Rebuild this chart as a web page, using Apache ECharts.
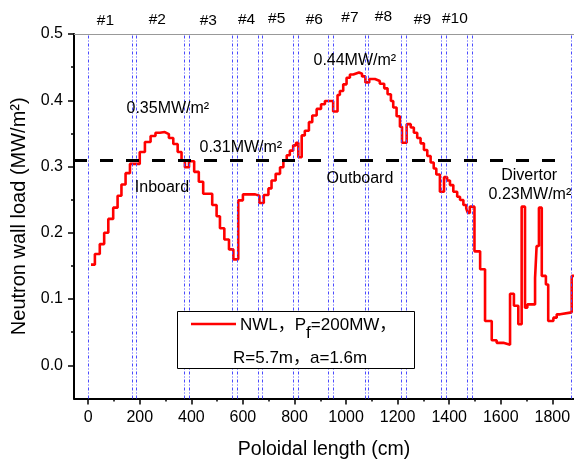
<!DOCTYPE html>
<html><head><meta charset="utf-8">
<script src="https://cdn.jsdelivr.net/npm/echarts@6/dist/echarts.min.js"></script>
<style>html,body{margin:0;padding:0;background:#fff}#c{width:574px;height:464px}</style>
</head><body><div id="c"></div>
<script>
// ---- data ----
const poloidalX = [11,26,45,62,78,97,114,129,145,162,200,220,242,261,278,297,313,330,347,362,375,391,411,429,446,481,498,511,528,546,563,582,600,648,664,681,699,711,727,744,757,770,782,795,806,815,828,840,856,869,886,903,918,950,967,976,989,1002,1015,1028,1050,1062,1075,1090,1112,1131,1148,1161,1174,1183,1196,1209,1217,1235,1251,1263,1276,1289,1302,1315,1328,1340,1350,1364,1380,1392,1403,1416,1431,1442,1455,1466,1472,1480,1498,1520,1539,1565,1584,1610,1636,1651,1668,1681,1694,1703,1733,1739,1748,1759,1775,1784,1804,1817,1830,1875,1884];
const nwlY = [0.152,0.168,0.183,0.200,0.221,0.238,0.256,0.273,0.290,0.304,0.322,0.337,0.346,0.351,0.352,0.349,0.343,0.334,0.322,0.309,0.299,0.308,0.292,0.277,0.259,0.242,0.225,0.207,0.190,0.175,0.160,0.249,0.258,0.256,0.245,0.257,0.267,0.279,0.289,0.299,0.309,0.317,0.324,0.332,0.336,0.314,0.347,0.354,0.367,0.377,0.387,0.394,0.399,0.383,0.408,0.414,0.424,0.434,0.439,0.442,0.440,0.436,0.427,0.432,0.429,0.425,0.418,0.409,0.399,0.389,0.376,0.360,0.336,0.364,0.359,0.351,0.343,0.335,0.325,0.316,0.306,0.297,0.288,0.262,0.284,0.279,0.272,0.262,0.2545,0.2495,0.242,0.237,0.230,0.2395,0.172,0.145,0.067,0.038,0.034,0.031,0.108,0.090,0.062,0.2395,0.087,0.092,0.132,0.180,0.238,0.135,0.122,0.067,0.072,0.077,0.080,0.135,0.135];
const segmentLines = [0,172,185,372,392,559,577,658,675,795,813,932,950,1074,1088,1214,1232,1368,1388,1470,1491,1875];
const segmentNames = ['#1','#2','#3','#4','#5','#6','#7','#8','#9','#10'];
const segmentLabelX = [67,268,466,614,731,877,1015,1145,1296,1422];
const segmentLabelY = [0.520,0.521,0.520,0.521,0.523,0.521,0.524,0.526,0.521,0.523];
const annotTexts = ['0.35MW/m²','0.31MW/m²','0.44MW/m²','Inboard','Outboard','Divertor','0.23MW/m²'];
const annotX = [309,592,1034,286,1054,1710,1713];
const annotY = [0.387,0.328,0.460,0.268,0.282,0.287,0.258];
const thresholdY = 0.309;
const thresholdX = [-55,1830];
const xMajorTicks = [0,200,400,600,800,1000,1200,1400,1600,1800];
const xMinorTicks = [100,300,500,700,900,1100,1300,1500,1700];
const yMajorTicks = [0,0.1,0.2,0.3,0.4,0.5];
const yMinorTicks = [0.05,0.15,0.25,0.35,0.45];
const xRange = [-55,1884];
const yRange = [-0.05,0.5];

const FONT = 'Arial, "Liberation Sans", "Noto Sans CJK SC", sans-serif';
const chart = echarts.init(document.getElementById('c'), null, {renderer:'canvas'});
const seriesData = poloidalX.map((x,i)=>[x,nwlY[i]]);

const baseX = {type:'value', min:xRange[0], max:xRange[1], splitLine:{show:false}};
const baseY = {type:'value', min:yRange[0], max:yRange[1], splitLine:{show:false}};

chart.setOption({
  animation:false,
  grid:{left:74,right:0,top:34,bottom:62},
  xAxis:[
    Object.assign({}, baseX, {position:'bottom',
      axisLine:{show:true,onZero:false,lineStyle:{color:'#000',width:2}},
      axisTick:{show:true,inside:false,length:6,customValues:xMajorTicks,lineStyle:{color:'#000',width:1.5}},
      axisLabel:{customValues:xMajorTicks,color:'#000',fontSize:16,margin:11,fontFamily:FONT,
        formatter:v=>String(v)},
      name:'Poloidal length (cm)',nameLocation:'middle',nameGap:41,
      nameTextStyle:{color:'#000',fontSize:19.5,fontFamily:FONT}}),
    Object.assign({}, baseX, {position:'bottom',
      axisLine:{show:false,onZero:false},
      axisTick:{show:true,inside:false,length:3,customValues:xMinorTicks,lineStyle:{color:'#000',width:1.5}},
      axisLabel:{show:false}}),
    Object.assign({}, baseX, {position:'top',
      axisLine:{show:true,onZero:false,lineStyle:{color:'#999',width:1}},
      axisTick:{show:false},axisLabel:{show:false}})
  ],
  yAxis:[
    Object.assign({}, baseY, {position:'left',
      axisLine:{show:true,onZero:false,lineStyle:{color:'#000',width:2}},
      axisTick:{show:true,inside:false,length:6,customValues:yMajorTicks,lineStyle:{color:'#000',width:1.5}},
      axisLabel:{customValues:yMajorTicks,color:'#000',fontSize:16,margin:11,fontFamily:FONT,
        formatter:v=>v.toFixed(1)},
      name:'Neutron wall load (MW/m²)',nameLocation:'middle',nameGap:45,
      nameTextStyle:{color:'#000',fontSize:20,fontFamily:FONT}}),
    Object.assign({}, baseY, {position:'left',
      axisLine:{show:false,onZero:false},
      axisTick:{show:true,inside:false,length:3,customValues:yMinorTicks,lineStyle:{color:'#000',width:1.5}},
      axisLabel:{show:false}})
  ],
  series:[
    {type:'line',data:[],xAxisIndex:0,yAxisIndex:0,silent:true,
      markLine:{silent:true,symbol:'none',animation:false,label:{show:false},
        lineStyle:{color:'#4a4aff',width:1,type:[3,2,1,2]},
        data:segmentLines.map(v=>({xAxis:v}))}},
    {type:'line',name:'NWL',data:seriesData,step:'end',symbol:'none',xAxisIndex:0,yAxisIndex:0,
      lineStyle:{color:'#ff0000',width:2.6},clip:false},
    {type:'line',data:[],xAxisIndex:0,yAxisIndex:0,silent:true,z:5,
      markLine:{silent:true,symbol:'none',animation:false,label:{show:false},
        lineStyle:{color:'#000',width:3,type:[13,13]},
        data:[[{coord:[thresholdX[0],thresholdY]},{coord:[thresholdX[1],thresholdY]}]]}}
  ]
});

// annotations positioned via axis conversion
const toPx = (x,y)=>chart.convertToPixel({xAxisIndex:0,yAxisIndex:0},[x,y]);
const g = [];
segmentNames.forEach((t,i)=>{
  const p = toPx(segmentLabelX[i], segmentLabelY[i]);
  g.push({type:'text',z:10,style:{text:t,x:p[0],y:p[1],font:'15.5px '+FONT,fill:'#000',
    align:'center',verticalAlign:'middle',textAlign:'center',textVerticalAlign:'middle'}});
});
annotTexts.forEach((t,i)=>{
  const p = toPx(annotX[i], annotY[i]);
  g.push({type:'text',z:10,style:{text:t,x:p[0],y:p[1],font:'16px '+FONT,fill:'#000',
    align:'center',verticalAlign:'middle',textAlign:'center',textVerticalAlign:'middle'}});
});
// legend box
const legFont = '17px '+FONT;
const ctx = document.createElement('canvas').getContext('2d');
ctx.font = legFont;
const w1 = ctx.measureText('NWL，P').width;
const w2 = ctx.measureText('f').width;
const lx = 177, ly = 311, lw = 237, lh = 57;
g.push({type:'rect',z:20,shape:{x:lx+0.5,y:ly+0.5,width:lw,height:lh},style:{fill:'#fff',stroke:'#000',lineWidth:1}});
g.push({type:'line',z:21,shape:{x1:191,y1:324,x2:236,y2:324},style:{stroke:'#ff0000',lineWidth:2.5}});
const tx = 240, ty = 325;
g.push({type:'text',z:21,style:{text:'NWL，P',x:tx,y:ty,font:legFont,fill:'#000',verticalAlign:'middle',textVerticalAlign:'middle'}});
g.push({type:'text',z:21,style:{text:'f',x:tx+w1,y:ty+8,font:legFont,fill:'#000',verticalAlign:'middle',textVerticalAlign:'middle'}});
g.push({type:'text',z:21,style:{text:'=200MW，',x:tx+w1+w2,y:ty,font:legFont,fill:'#000',verticalAlign:'middle',textVerticalAlign:'middle'}});
g.push({type:'text',z:21,style:{text:'R=5.7m，a=1.6m',x:233,y:358,font:legFont,fill:'#000',verticalAlign:'middle',textVerticalAlign:'middle'}});
chart.setOption({graphic:g});
</script>
</body></html>
